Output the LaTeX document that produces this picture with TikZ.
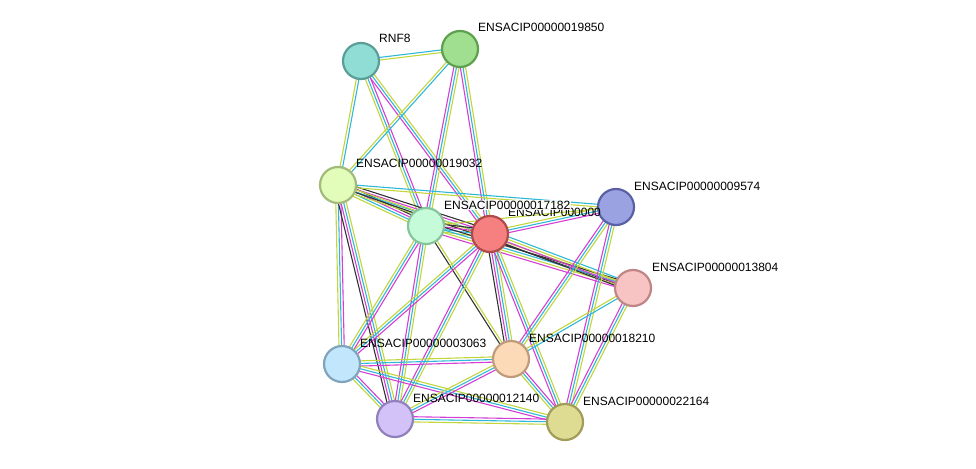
\documentclass[tikz,border=0pt]{standalone}
\usepackage{fontspec}
\setmainfont{Liberation Sans}
\usetikzlibrary{calc}
\definecolor{eg}{HTML}{C2D63C}
\definecolor{ec}{HTML}{2FB8D8}
\definecolor{em}{HTML}{D43ED4}
\definecolor{ek}{HTML}{333333}
\definecolor{f1}{HTML}{9FDF8F}\definecolor{d1}{HTML}{5DA14E}
\definecolor{f2}{HTML}{E2FCB9}\definecolor{d2}{HTML}{A3BB7A}
\definecolor{f3}{HTML}{C6FBD9}\definecolor{d3}{HTML}{86C49A}
\definecolor{f4}{HTML}{F68080}\definecolor{d4}{HTML}{B04A4A}
\definecolor{f5}{HTML}{9BA2E2}\definecolor{d5}{HTML}{5A60A6}
\definecolor{f6}{HTML}{F7C3C3}\definecolor{d6}{HTML}{C08585}
\definecolor{f7}{HTML}{C2E6FB}\definecolor{d7}{HTML}{7FA4BC}
\definecolor{f8}{HTML}{FCD9B7}\definecolor{d8}{HTML}{BF9B7C}
\definecolor{f9}{HTML}{D2C2F8}\definecolor{d9}{HTML}{9081BB}
\definecolor{f10}{HTML}{DEDB93}\definecolor{d10}{HTML}{A19C57}
\definecolor{f0}{HTML}{8FDDD5}\definecolor{d0}{HTML}{5A9E97}
\tikzset{
  prot/.style={circle,minimum size=36pt,inner sep=0pt,line width=2.2pt},
  lab/.style={anchor=base west,inner sep=1pt,font=\fontsize{12}{13}\selectfont},
}
\newcommand{\edg}[3]{%
  \foreach \c [count=\i] in {#3} {\xdef\nn{\i}}%
  \foreach \c [count=\i] in {#3} {%
    \pgfmathsetmacro{\off}{(\i-(\nn+1)/2)*2.6}%
    \draw[\c,line width=1.1pt] ($(#1)!\off pt!90:(#2)$) -- ($(#2)!\off pt!-90:(#1)$);
  }%
}
\begin{document}
\begin{tikzpicture}[x=1pt,y=-1pt]
\useasboundingbox (0,0) rectangle (976,468);
\coordinate (rnf) at (361,61);
\coordinate (a19850) at (460,49);
\coordinate (a19032) at (338,185);
\coordinate (a17182) at (426,226);
\coordinate (cen) at (490,234);
\coordinate (a9574) at (616,207);
\coordinate (a13804) at (633,288);
\coordinate (a3063) at (342,364);
\coordinate (a18210) at (511,359);
\coordinate (a12140) at (395,419);
\coordinate (a22164) at (565,422);
\edg{rnf}{a19850}{eg,ec}
\edg{rnf}{a19032}{eg,ec}
\edg{rnf}{a17182}{eg,ec,em}
\edg{rnf}{cen}{em,ec,eg}
\edg{a19850}{a19032}{eg,ec}
\edg{a19850}{a17182}{em,ec,eg}
\edg{a19850}{cen}{em,ec,eg}
\edg{a19032}{a17182}{eg,ec,em,ek}
\edg{a19032}{cen}{eg,ec,em,ek}
\edg{a19032}{a9574}{eg,ec}
\edg{a19032}{a13804}{ek,eg}
\edg{a19032}{a3063}{eg,ec,em}
\edg{a19032}{a12140}{ek,em,ec,eg}
\edg{a17182}{cen}{eg,ec,em,ek}
\edg{a17182}{a9574}{eg}
\edg{a17182}{a13804}{em,eg,ec,ek}
\edg{a17182}{a3063}{eg,ec,em}
\edg{a17182}{a12140}{em,ec,eg}
\edg{a17182}{a18210}{ek,eg}
\edg{cen}{a9574}{em,ec,eg}
\edg{cen}{a13804}{ek,em,eg,ec}
\edg{cen}{a3063}{eg,ec,em}
\edg{cen}{a12140}{em,ec,eg}
\edg{cen}{a18210}{ek,em,ec,eg}
\edg{cen}{a22164}{em,ec,eg}
\edg{a9574}{a18210}{em,ec,eg}
\edg{a9574}{a22164}{em,ec,eg}
\edg{a13804}{a18210}{eg,ec}
\edg{a13804}{a22164}{em,ec,eg}
\edg{a3063}{a18210}{em,ec,eg}
\edg{a3063}{a12140}{eg,ec,em}
\edg{a3063}{a22164}{em,ec,eg}
\edg{a12140}{a18210}{em,ec,eg}
\edg{a12140}{a22164}{eg,ec,em}
\edg{a18210}{a22164}{eg,ec,em}
\node[prot,fill=f0,draw=d0] (nrnf) at (rnf) {};
\node[prot,fill=f1,draw=d1] (n19850) at (a19850) {};
\node[prot,fill=f2,draw=d2] (n19032) at (a19032) {};
\node[prot,fill=f3,draw=d3] (n17182) at (a17182) {};
\node[prot,fill=f4,draw=d4] (ncen) at (cen) {};
\node[prot,fill=f5,draw=d5] (n9574) at (a9574) {};
\node[prot,fill=f6,draw=d6] (n13804) at (a13804) {};
\node[prot,fill=f7,draw=d7] (n3063) at (a3063) {};
\node[prot,fill=f8,draw=d8] (n18210) at (a18210) {};
\node[prot,fill=f9,draw=d9] (n12140) at (a12140) {};
\node[prot,fill=f10,draw=d10] (n22164) at (a22164) {};
\node[lab] (lrnf) at (378,43) {RNF8};
\node[lab] (l19850) at (477,32) {ENSACIP00000019850};
\node[lab] (l19032) at (355,167) {ENSACIP00000019032};
\node[lab] (lcen) at (507,216) {ENSACIP000000};
\node[lab,fill=white,fill opacity=0.85,text opacity=1] (l17182) at (443,209) {ENSACIP00000017182};
\node[lab] (l9574) at (633,190) {ENSACIP00000009574};
\node[lab] (l13804) at (651,271) {ENSACIP00000013804};
\node[lab] (l3063) at (359,347) {ENSACIP00000003063};
\node[lab] (l18210) at (528,342) {ENSACIP00000018210};
\node[lab] (l12140) at (412,402) {ENSACIP00000012140};
\node[lab] (l22164) at (582,405) {ENSACIP00000022164};
\end{tikzpicture}
\end{document}
